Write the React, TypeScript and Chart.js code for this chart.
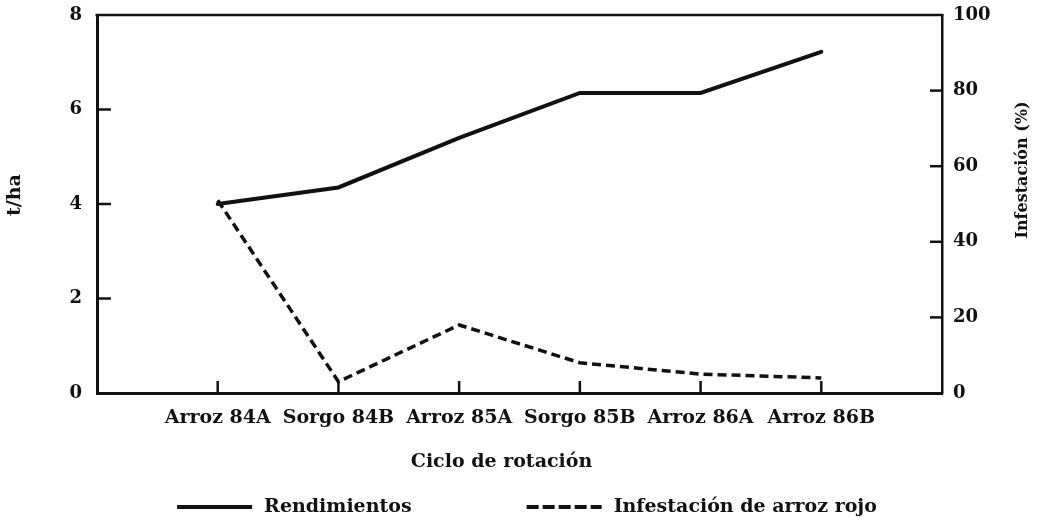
import React, { useEffect, useRef } from "react";
import { Chart, registerables } from "chart.js";

Chart.register(...registerables);

const FONT = "'DejaVu Serif', 'Liberation Serif', serif";
const INK = "#111111";

const categories = ["Arroz 84A", "Sorgo 84B", "Arroz 85A", "Sorgo 85B", "Arroz 86A", "Arroz 86B"];
const rendimientos = [4.0, 4.35, 5.4, 6.35, 6.35, 7.22];
const infestacion = [51, 3, 18, 8, 5, 4];
const yTicks = [0, 2, 4, 6, 8];
const y1Ticks = [0, 20, 40, 60, 80, 100];
const seriesNames = ["Rendimientos", "Infestación de arroz rojo"];
const xTitle = "Ciclo de rotación";
const yTitle = "t/ha";
const y1Title = "Infestación (%)";

const W = 1046;
const H = 518;

const decor = {
  id: "decor",
  afterDraw(chart: any) {
    const { ctx, chartArea: a, scales } = chart;
    const line = (x1: number, y1: number, x2: number, y2: number) => {
      ctx.beginPath();
      ctx.moveTo(x1, y1);
      ctx.lineTo(x2, y2);
      ctx.stroke();
    };
    ctx.save();
    ctx.strokeStyle = INK;
    ctx.fillStyle = INK;
    ctx.lineCap = "butt";
    ctx.setLineDash([]);
    // top border
    ctx.lineWidth = 2.5;
    line(a.left - 1.5, a.top, a.right + 1.25, a.top);
    // inner ticks
    ctx.lineWidth = 2.5;
    yTicks.slice(1, -1).forEach((v) => {
      const y = scales.y.getPixelForValue(v);
      line(a.left, y, a.left + 14, y);
    });
    y1Ticks.slice(1, -1).forEach((v) => {
      const y = scales.y1.getPixelForValue(v);
      line(a.right - 12, y, a.right, y);
    });
    categories.forEach((_, i) => {
      const x = scales.x.getPixelForValue(i + 1);
      line(x, a.bottom, x, a.bottom - 12);
    });
    // titles
    ctx.textAlign = "center";
    ctx.textBaseline = "middle";
    ctx.font = `bold 19px ${FONT}`;
    ctx.fillText(xTitle, (a.left + a.right) / 2 - 18, a.bottom + 69);
    ctx.save();
    ctx.translate(15, 195);
    ctx.rotate(-Math.PI / 2);
    ctx.font = `bold 19px ${FONT}`;
    ctx.fillText(yTitle, 0, 0);
    ctx.restore();
    ctx.save();
    ctx.translate(1023, 170);
    ctx.rotate(-Math.PI / 2);
    ctx.font = `bold 16px ${FONT}`;
    ctx.fillText(y1Title, 0, 0);
    ctx.restore();
    // legend
    ctx.font = `bold 19px ${FONT}`;
    ctx.textAlign = "left";
    const lineLen = 75;
    const gap = 12;
    const itemGap = 115;
    const w1 = ctx.measureText(seriesNames[0]).width;
    const w2 = ctx.measureText(seriesNames[1]).width;
    const total = lineLen + gap + w1 + itemGap + lineLen + gap + w2;
    let x = W / 2 + 4 - total / 2;
    const ly = a.bottom + 114;
    const ds = chart.data.datasets;
    ctx.lineWidth = 4;
    ctx.setLineDash([]);
    line(x, ly, x + lineLen, ly);
    x += lineLen + gap;
    ctx.fillText(ds[0].label, x, ly);
    x += w1 + itemGap;
    ctx.setLineDash([12, 4]);
    line(x, ly, x + lineLen, ly);
    ctx.setLineDash([]);
    x += lineLen + gap;
    ctx.fillText(ds[1].label, x, ly);
    ctx.restore();
  },
};

export default function App() {
  const ref = useRef<HTMLCanvasElement | null>(null);
  useEffect(() => {
    if (!ref.current) return;
    const labels = ["", ...categories, ""];
    const chart = new Chart(ref.current, {
      type: "line",
      data: {
        labels,
        datasets: [
          {
            label: seriesNames[0],
            data: [null, ...rendimientos, null],
            yAxisID: "y",
            borderColor: INK,
            borderWidth: 4,
            pointRadius: 0,
            fill: false,
            tension: 0,
            borderJoinStyle: "miter",
            borderCapStyle: "round",
          },
          {
            label: seriesNames[1],
            data: [null, ...infestacion, null],
            yAxisID: "y1",
            borderColor: INK,
            borderWidth: 3.5,
            borderDash: [9, 5],
            pointRadius: 0,
            fill: false,
            tension: 0,
            borderJoinStyle: "miter",
          },
        ],
      },
      options: {
        responsive: false,
        animation: false,
        devicePixelRatio: 1,
        layout: { padding: { top: 15, left: 0, right: 0, bottom: 0 } },
        plugins: { legend: { display: false }, tooltip: { enabled: false } },
        scales: {
          x: {
            type: "category",
            offset: false,
            grid: { display: false, drawTicks: false },
            border: { display: true, color: INK, width: 3 },
            ticks: {
              autoSkip: false,
              maxRotation: 0,
              minRotation: 0,
              padding: 14,
              color: INK,
              font: { family: FONT, size: 19, weight: "bold" },
            },
            afterFit: (s: any) => {
              s.height = 125;
              s.paddingLeft = 0;
              s.paddingRight = 0;
            },
          },
          y: {
            position: "left",
            min: 0,
            max: 8,
            grid: { display: false, drawTicks: false },
            border: { display: true, color: INK, width: 3 },
            ticks: {
              padding: 15,
              color: INK,
              font: { family: FONT, size: 18, weight: "bold" },
            },
            afterBuildTicks: (s: any) => {
              s.ticks = yTicks.map((v) => ({ value: v }));
            },
            afterFit: (s: any) => {
              s.width = 97;
              s.paddingTop = 0;
              s.paddingBottom = 0;
            },
          },
          y1: {
            position: "right",
            min: 0,
            max: 100,
            grid: { display: false, drawTicks: false },
            border: { display: true, color: INK, width: 2.5 },
            ticks: {
              padding: 11,
              color: INK,
              font: { family: FONT, size: 18, weight: "bold" },
            },
            afterBuildTicks: (s: any) => {
              s.ticks = y1Ticks.map((v) => ({ value: v }));
            },
            afterFit: (s: any) => {
              s.width = 104;
              s.paddingTop = 0;
              s.paddingBottom = 0;
            },
          },
        },
      },
      plugins: [decor],
    } as any);
    return () => chart.destroy();
  }, []);
  return (
    <div style={{ position: "absolute", left: 0, top: 0, width: W, height: H, background: "#fff" }}>
      <canvas ref={ref} width={W} height={H} style={{ display: "block" }} />
    </div>
  );
}
